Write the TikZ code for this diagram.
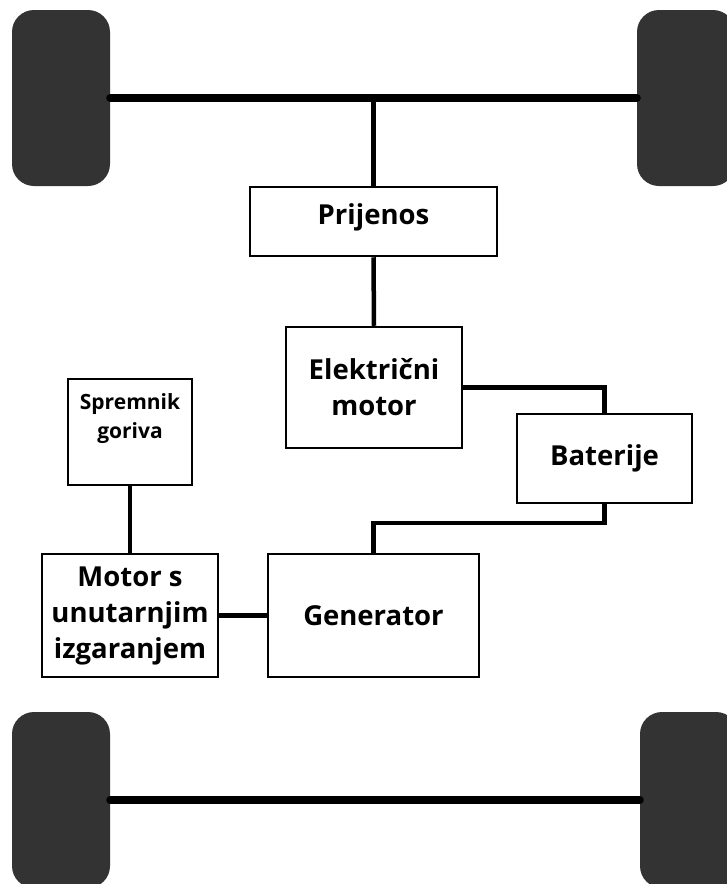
\documentclass[tikz,border=0pt]{standalone}
\usepackage{fontspec}
\setmainfont{Open Sans}
\usepackage{tikz}
\usetikzlibrary{positioning}
\definecolor{tyre}{HTML}{333333}

\begin{document}
\begin{tikzpicture}[
    x=1pt, y=-1pt,
    wheel/.style={rectangle, rounded corners=22pt, fill=tyre, minimum width=98pt, minimum height=176pt, inner sep=0pt},
    unit/.style={rectangle, draw, line width=2.5pt, align=center, inner sep=0pt, font=\fontsize{27.5}{36}\selectfont\bfseries},
    small/.style={font=\fontsize{21}{29}\selectfont\bfseries},
    axle/.style={line width=8pt, line cap=round},
    link/.style={line width=4.5pt}
]
\useasboundingbox (0,0) rectangle (726,884);

\node[wheel] (wfl) at (61,98) {};
\node[wheel] (wfr) at (686,98) {};
\node[wheel] (wrl) at (61,800) {};
\node[wheel] (wrr) at (689,800) {};

\node[unit, minimum width=247pt, minimum height=69pt, text depth=14pt] (prijenos) at (373.5,221.5) {Prijenos};
\node[unit, minimum width=176pt, minimum height=121pt] (emotor) at (374,387.5) {Električni\\motor};
\node[unit, minimum width=175pt, minimum height=89pt] (baterije) at (604.5,458.5) {Baterije};
\node[unit, small, minimum width=124pt, minimum height=106pt, text depth=32pt] (spremnik) at (130,432) {Spremnik\\goriva};
\node[unit, minimum width=176pt, minimum height=123pt] (ice) at (130,615.5) {Motor s\\unutarnjim\\izgaranjem};
\node[unit, minimum width=211pt, minimum height=123pt] (generator) at (373.5,615.5) {Generator};

\coordinate (hub) at (prijenos.north |- wfl.east);

\draw[axle] (wfl.east) -- (wfr.west);
\draw[axle] (wrl.east) -- (wrr.west);
\draw[link] (hub) -- (prijenos.north);
\draw[link] (prijenos.south) -- (emotor.north);
\draw[link] (emotor.east) -| (baterije.north);
\draw[link] (generator.north) -- ++(0,-30) -| (baterije.south);
\draw[link] (spremnik.south) -- (ice.north);
\draw[link] (ice.east) -- (generator.west);

\end{tikzpicture}
\end{document}
